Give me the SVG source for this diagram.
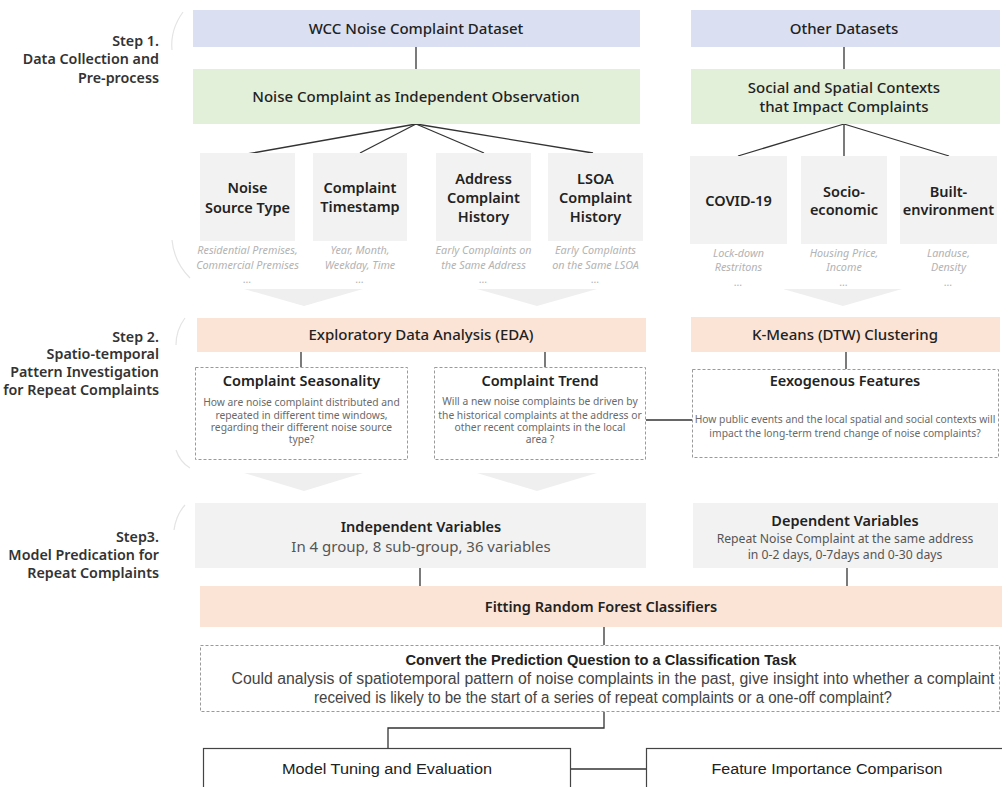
<svg xmlns="http://www.w3.org/2000/svg" width="1002" height="787" viewBox="0 0 1002 787">
<style>
.t{font-family:"Noto Sans","Open Sans","Liberation Sans",sans-serif;fill:#222;text-anchor:middle}
.h{font-size:15px;font-weight:500}
.b{font-size:14.5px;font-weight:600}
.step{font-family:"Noto Sans","Open Sans","Liberation Sans",sans-serif;font-size:14.3px;font-weight:600;fill:#333;text-anchor:end}
.it{font-family:"Noto Sans","Open Sans","Liberation Sans",sans-serif;font-size:10.8px;font-style:italic;fill:#b3b3b3;text-anchor:middle}
.q{font-family:"Noto Sans","Open Sans","Liberation Sans",sans-serif;font-size:10.3px;fill:#6a6a6a;text-anchor:middle}
.n{font-family:"Liberation Sans",sans-serif;fill:#222;text-anchor:middle}
.blue{fill:#dae0f1}
.green{fill:#e2efd9}
.grey{fill:#f2f2f2}
.peach{fill:#fbe4d5}
.dash{fill:#fff;stroke:#9a9a9a;stroke-width:1;stroke-dasharray:3 2}
.solid{fill:#fff;stroke:#444;stroke-width:1.2}
.chev{fill:#efefef}
.ln{stroke:#333;stroke-width:1.3;fill:none}
.arc{stroke:#e4e4e4;stroke-width:1.2;fill:none}
</style>

<g id="decor">
<path class="arc" d="M183,12 Q170,30 172,50"/>
<path class="arc" d="M172,240 Q174,262 190,278"/>
<path class="arc" d="M185,318 Q176,330 176,345"/>
<path class="arc" d="M176,450 Q180,462 190,468"/>
<path class="arc" d="M185,505 Q176,515 174,530"/>
<polygon class="chev" points="244,289 363,289 304,306"/>
<polygon class="chev" points="477,289 597,289 537,306"/>
<polygon class="chev" points="783,289 902,289 843,306"/>
<polygon class="chev" points="244,473 363,473 304,491"/>
<polygon class="chev" points="477,473 597,473 537,491"/>
</g>

<g id="step-labels">
<text class="step" x="159" y="46">Step 1.</text>
<text class="step" x="159" y="64">Data Collection and</text>
<text class="step" x="159" y="83">Pre-process</text>
<text class="step" x="159" y="342">Step 2.</text>
<text class="step" x="159" y="359">Spatio-temporal</text>
<text class="step" x="159" y="377">Pattern Investigation</text>
<text class="step" x="159" y="395">for Repeat Complaints</text>
<text class="step" x="159" y="542">Step3.</text>
<text class="step" x="159" y="560">Model Predication for</text>
<text class="step" x="159" y="578">Repeat Complaints</text>
</g>

<g id="connectors">
<line class="ln" x1="416" y1="47" x2="416" y2="69"/>
<line class="ln" x1="844" y1="47" x2="844" y2="69"/>
<line class="ln" x1="416" y1="124" x2="247" y2="154"/>
<line class="ln" x1="416" y1="124" x2="360" y2="153"/>
<line class="ln" x1="416" y1="124" x2="484" y2="153"/>
<line class="ln" x1="416" y1="124" x2="593" y2="153"/>
<line class="ln" x1="844" y1="124" x2="738" y2="156"/>
<line class="ln" x1="844" y1="124" x2="844" y2="156"/>
<line class="ln" x1="844" y1="124" x2="949" y2="156"/>
<line class="ln" x1="301" y1="352" x2="301" y2="367"/>
<line class="ln" x1="545" y1="352" x2="545" y2="367"/>
<line class="ln" x1="846" y1="352" x2="846" y2="369"/>
<line class="ln" x1="646" y1="420" x2="692" y2="420" stroke-width="1"/>
<line class="ln" x1="420" y1="568" x2="420" y2="586"/>
<line class="ln" x1="847" y1="568" x2="847" y2="586"/>
<line class="ln" x1="604" y1="627" x2="604" y2="645"/>
<polyline class="ln" points="604,712 604,728 388,728 388,748" stroke-width="1.6"/>
<line class="ln" x1="571" y1="769" x2="646" y2="769" stroke-width="1.6"/>
</g>

<g id="wcc">
<rect class="blue" x="193" y="10" width="447" height="37"/>
<text class="t h" x="416" y="34">WCC Noise Complaint Dataset</text>
</g>
<g id="other">
<rect class="blue" x="691" y="10" width="309" height="37"/>
<text class="t h" x="844" y="34">Other Datasets</text>
</g>
<g id="independent-obs">
<rect class="green" x="193" y="69" width="447" height="55"/>
<text class="t h" x="416" y="102">Noise Complaint as Independent Observation</text>
</g>
<g id="contexts">
<rect class="green" x="691" y="69" width="309" height="55"/>
<text class="t h" x="844" y="93">Social and Spatial Contexts</text>
<text class="t h" x="844" y="112">that Impact Complaints</text>
</g>

<g id="noise-source">
<rect class="grey" x="200" y="153" width="95" height="88"/>
<text class="t b" x="247.5" y="193">Noise</text>
<text class="t b" x="247.5" y="213">Source Type</text>
<text class="it" x="247.5" y="254">Residential Premises,</text>
<text class="it" x="247.5" y="269">Commercial Premises</text>
<text class="it" x="247.5" y="283">...</text>
</g>
<g id="timestamp">
<rect class="grey" x="313" y="153" width="94" height="88"/>
<text class="t b" x="360" y="193">Complaint</text>
<text class="t b" x="360" y="212">Timestamp</text>
<text class="it" x="360" y="254">Year, Month,</text>
<text class="it" x="360" y="269">Weekday, Time</text>
<text class="it" x="360" y="283">...</text>
</g>
<g id="address-history">
<rect class="grey" x="436" y="153" width="95" height="88"/>
<text class="t b" x="483.5" y="184">Address</text>
<text class="t b" x="483.5" y="203">Complaint</text>
<text class="t b" x="483.5" y="222">History</text>
<text class="it" x="483.5" y="254">Early Complaints on</text>
<text class="it" x="483.5" y="269">the Same Address</text>
<text class="it" x="483.5" y="283">...</text>
</g>
<g id="lsoa-history">
<rect class="grey" x="548" y="153" width="95" height="88"/>
<text class="t b" x="595.5" y="184">LSOA</text>
<text class="t b" x="595.5" y="203">Complaint</text>
<text class="t b" x="595.5" y="222">History</text>
<text class="it" x="595.5" y="254">Early Complaints</text>
<text class="it" x="595.5" y="269">on the Same LSOA</text>
<text class="it" x="595.5" y="283">...</text>
</g>
<g id="covid">
<rect class="grey" x="690" y="156" width="97" height="88"/>
<text class="t b" x="738.5" y="206">COVID-19</text>
<text class="it" x="738.5" y="257">Lock-down</text>
<text class="it" x="738.5" y="271">Restritons</text>
<text class="it" x="738.5" y="286">...</text>
</g>
<g id="socio">
<rect class="grey" x="801" y="156" width="86" height="88"/>
<text class="t b" x="844" y="197">Socio-</text>
<text class="t b" x="844" y="215">economic</text>
<text class="it" x="844" y="257">Housing Price,</text>
<text class="it" x="844" y="271">Income</text>
<text class="it" x="844" y="286">...</text>
</g>
<g id="built">
<rect class="grey" x="900" y="156" width="97" height="88"/>
<text class="t b" x="948.5" y="197">Built-</text>
<text class="t b" x="948.5" y="215">environment</text>
<text class="it" x="948.5" y="257">Landuse,</text>
<text class="it" x="948.5" y="271">Density</text>
<text class="it" x="948.5" y="286">...</text>
</g>

<g id="eda">
<rect class="peach" x="197" y="318" width="449" height="34"/>
<text class="t h" x="421" y="340">Exploratory Data Analysis (EDA)</text>
</g>
<g id="kmeans">
<rect class="peach" x="691" y="317" width="309" height="35"/>
<text class="t h" x="845" y="340">K-Means (DTW) Clustering</text>
</g>
<g id="seasonality">
<rect class="dash" x="195.5" y="367.5" width="212" height="92"/>
<text class="t b" x="301.5" y="386">Complaint Seasonality</text>
<text class="q" x="301.5" y="406">How are noise complaint distributed and</text>
<text class="q" x="301.5" y="419">repeated in different time windows,</text>
<text class="q" x="301.5" y="431">regarding their different noise source</text>
<text class="q" x="301.5" y="443">type?</text>
</g>
<g id="trend">
<rect class="dash" x="434.5" y="367.5" width="211" height="92"/>
<text class="t b" x="540" y="386">Complaint Trend</text>
<text class="q" x="540" y="405">Will a new noise complaints be driven by</text>
<text class="q" x="540" y="419">the historical complaints at the address or</text>
<text class="q" x="540" y="431">other recent complaints in the local</text>
<text class="q" x="540" y="443">area ?</text>
</g>
<g id="exogenous">
<rect class="dash" x="692.5" y="369.5" width="306" height="88"/>
<text class="t b" x="845" y="386">Eexogenous Features</text>
<text class="q" x="845" y="423">How public events and the local spatial and social contexts will</text>
<text class="q" x="845" y="437">impact the long-term trend change of noise complaints?</text>
</g>

<g id="independent-vars">
<rect class="grey" x="195" y="503" width="451" height="65"/>
<text class="t b" x="421" y="532">Independent Variables</text>
<text class="t" x="421" y="552" font-size="15" style="fill:#555">In 4 group, 8 sub-group, 36 variables</text>
</g>
<g id="dependent-vars">
<rect class="grey" x="693" y="503" width="305" height="65"/>
<text class="t b" x="845" y="526">Dependent Variables</text>
<text class="t" x="845" y="543" font-size="12.2" style="fill:#555">Repeat Noise Complaint at the same address</text>
<text class="t" x="845" y="559" font-size="12.2" style="fill:#555">in 0-2 days, 0-7days and 0-30 days</text>
</g>
<g id="fitting">
<rect class="peach" x="200" y="586" width="802" height="41"/>
<text class="t b" x="601" y="612">Fitting Random Forest Classifiers</text>
</g>
<g id="convert">
<rect class="dash" x="200.5" y="645.5" width="799" height="66"/>
<text class="n" x="601" y="665" font-size="15" font-weight="bold" textLength="391" lengthAdjust="spacingAndGlyphs">Convert the Prediction Question to a Classification Task</text>
<text class="n" x="613" y="684" font-size="16" textLength="763" lengthAdjust="spacingAndGlyphs" style="fill:#444">Could analysis of spatiotemporal pattern of noise complaints in the past, give insight into whether a complaint</text>
<text class="n" x="603" y="703" font-size="16" textLength="578" lengthAdjust="spacingAndGlyphs" style="fill:#444">received is likely to be the start of a series of repeat complaints or a one-off complaint?</text>
</g>
<g id="tuning">
<rect class="solid" x="203.5" y="748.5" width="367" height="50"/>
<text class="n" x="387" y="774" font-size="15.5" textLength="210" lengthAdjust="spacingAndGlyphs">Model Tuning and Evaluation</text>
</g>
<g id="importance">
<rect class="solid" x="646.5" y="748.5" width="360" height="50"/>
<text class="n" x="827" y="774" font-size="15.5" textLength="231" lengthAdjust="spacingAndGlyphs">Feature Importance Comparison</text>
</g>
</svg>
